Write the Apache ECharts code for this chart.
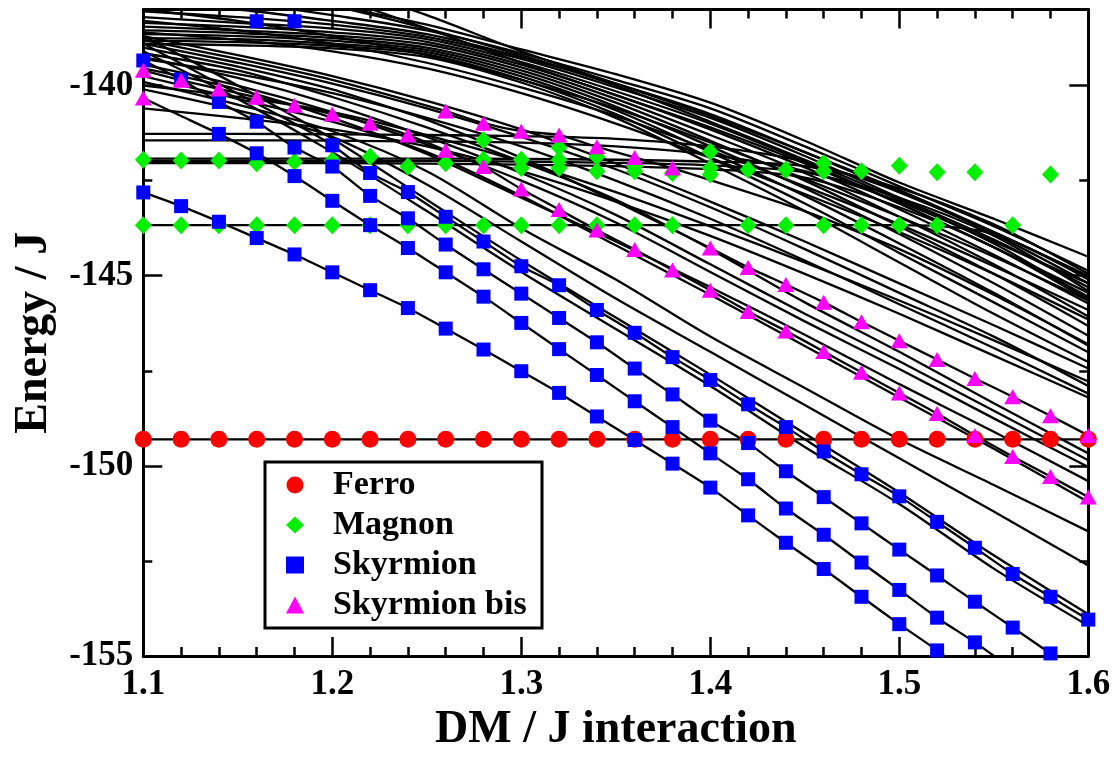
<!DOCTYPE html>
<html>
<head>
<meta charset="utf-8">
<title>Energy levels vs DM interaction</title>
<script src="https://cdn.jsdelivr.net/npm/echarts@6/dist/echarts.min.js"></script>
<style>
  html, body { margin: 0; padding: 0; background: #ffffff; }
  #chart { width: 1120px; height: 758px; }
</style>
</head>
<body>
<div id="chart"></div>
<script>
// ---------- sampling grids (DM / J) ----------
const dmFine = [1.10, 1.12, 1.14, 1.16, 1.18, 1.20, 1.22, 1.24, 1.26, 1.28, 1.30, 1.32, 1.34,
                1.36, 1.38, 1.40, 1.42, 1.44, 1.46, 1.48, 1.50, 1.52, 1.54, 1.56, 1.58, 1.60];
const dmCoarse = [1.10, 1.15, 1.20, 1.25, 1.30, 1.35, 1.40, 1.45, 1.50, 1.55, 1.60];

// ---------- tick labels ----------
const xTicks = [1.1, 1.2, 1.3, 1.4, 1.5, 1.6];
const yTicks = [-155, -150, -145, -140];

// ---------- identified states (energy / J) ----------
const ferroEnergy = [-149.3, -149.3, -149.3, -149.3, -149.3, -149.3, -149.3, -149.3, -149.3, -149.3,
                     -149.3, -149.3, -149.3, -149.3, -149.3, -149.3, -149.3, -149.3, -149.3, -149.3,
                     -149.3, -149.3, -149.3, -149.3, -149.3, -149.3];

const magnonUpper = [[1.10, -141.95], [1.12, -141.97], [1.14, -141.97], [1.16, -142.04], [1.18, -142.00],
  [1.20, -141.97], [1.22, -141.87], [1.24, -142.13], [1.26, -142.04], [1.28, -141.44], [1.28, -141.95],
  [1.30, -141.95], [1.30, -142.17], [1.32, -141.63], [1.32, -141.95], [1.32, -142.17], [1.34, -141.87],
  [1.34, -142.25], [1.36, -142.13], [1.36, -142.25], [1.38, -142.30], [1.40, -141.74], [1.40, -142.17],
  [1.40, -142.34], [1.42, -142.21], [1.44, -142.21], [1.46, -142.04], [1.46, -142.25], [1.48, -142.25],
  [1.50, -142.11], [1.52, -142.28], [1.54, -142.28], [1.58, -142.34]];

const magnonLower = [[1.10, -143.67], [1.12, -143.67], [1.14, -143.67], [1.16, -143.67], [1.18, -143.67],
  [1.20, -143.67], [1.22, -143.67], [1.24, -143.67], [1.26, -143.67], [1.28, -143.67], [1.30, -143.67],
  [1.32, -143.67], [1.34, -143.67], [1.36, -143.67], [1.38, -143.67], [1.42, -143.67], [1.44, -143.67],
  [1.46, -143.67], [1.48, -143.67], [1.50, -143.67], [1.52, -143.67], [1.56, -143.67]];

// skyrmion branches, listed from their first DM value in dmFine
const skyrmion1 = [-142.81, -143.17, -143.58, -144.01, -144.44, -144.91, -145.38, -145.85, -146.39, -146.94,
                   -147.51, -148.08, -148.70, -149.32, -149.94, -150.57, -151.30, -152.02, -152.71, -153.44,
                   -154.16, -154.85];                       // from 1.10
const skyrmion2 = [-141.27, -141.78, -142.38, -143.03, -143.67, -144.27, -144.91, -145.55, -146.24, -146.93,
                   -147.61, -148.30, -148.98, -149.67, -150.35, -151.12, -151.81, -152.54, -153.26, -153.99,
                   -154.64];                                // from 1.14
const skyrmion3 = [-139.34, -139.84, -140.43, -140.95, -141.63, -142.13, -142.90, -143.49, -144.18, -144.83,
                   -145.47, -146.11, -146.75, -147.44, -148.12, -148.81, -149.40, -150.14, -150.82, -151.51,
                   -152.20, -152.88, -153.57, -154.25, -154.93]; // from 1.10
const skyrmion4 = [-141.57, -142.30, -142.80, -143.45, -144.10, -144.75, -145.25, -145.90, -146.50, -147.14,
                   -147.74, -148.38, -148.98, -149.62, -150.22, -150.80, -151.47, -152.15, -152.84, -153.44,
                   -154.04];                                // from 1.20
const skyrmionHigh = [[1.16, -138.31], [1.18, -138.31]];

const bisMain = [-139.60, -139.86, -140.09, -140.31, -140.52, -140.75, -140.99, -141.30, -141.70, -142.13,
                 -142.72, -143.26, -143.80, -144.31, -144.85, -145.38, -145.94, -146.45, -146.99, -147.54,
                 -148.08, -148.62, -149.20, -149.75, -150.28, -150.82];  // from 1.10
const bisLate = [-144.27, -144.78, -145.23, -145.70, -146.21, -146.71, -147.20, -147.70, -148.18, -148.68,
                 -149.20];                                  // from 1.40
const bisUpper = [[1.26, -140.67], [1.28, -140.99], [1.30, -141.20], [1.32, -141.30], [1.34, -141.61],
                  [1.36, -141.89], [1.38, -142.17]];
const bisEdge = [[1.10, -140.33]];

// ---------- continuation of the marked branches beyond their markers ----------
const skyrmion1Tail = [[1.54, -155.60]];
const skyrmion2Lead = [[1.10, -140.33], [1.12, -140.80]];
const skyrmion2Tail = [[1.56, -155.35]];
const skyrmion3Tail = [[1.60, -155.62]];
const skyrmion4Lead = [[1.10, -138.90], [1.14, -139.95], [1.18, -141.00]];
const bisLateLead = [[1.10, -139.00], [1.15, -139.50], [1.20, -140.10], [1.25, -140.90], [1.30, -141.90], [1.35, -143.05]];
const bisUpperLead = [[1.10, -138.80], [1.15, -139.30], [1.20, -139.85]];
const bisUpperTail = [[1.45, -143.30], [1.50, -144.30], [1.55, -145.50], [1.60, -146.80]];

// ---------- other spectrum levels, sampled on dmCoarse ----------
const upperLevels = [
  [-137.20, -137.50, -137.90, -138.40, -139.05, -139.70, -140.45, -141.45, -142.55, -143.50, -144.50],
  [-137.50, -137.80, -138.15, -138.55, -139.15, -139.85, -140.60, -141.60, -142.65, -143.70, -144.87],
  [-137.80, -138.00, -138.30, -138.65, -139.25, -139.95, -140.75, -141.75, -142.80, -143.85, -145.04],
  [-138.05, -138.20, -138.40, -138.72, -139.30, -140.05, -140.85, -141.85, -142.95, -144.05, -145.30],
  [-138.20, -138.35, -138.50, -138.78, -139.38, -140.15, -141.00, -142.00, -143.10, -144.25, -145.55],
  [-138.35, -138.45, -138.60, -138.85, -139.45, -140.25, -141.15, -142.15, -143.25, -144.45, -145.73],
  [-138.45, -138.55, -138.68, -138.92, -139.52, -140.35, -141.30, -142.30, -143.45, -144.70, -146.07],
  [-138.55, -138.62, -138.75, -139.00, -139.60, -140.45, -141.45, -142.50, -143.70, -144.95, -146.32],
  [-138.65, -138.70, -138.82, -139.06, -139.68, -140.55, -141.60, -142.70, -143.90, -145.20, -146.58],
  [-138.75, -138.78, -138.90, -139.12, -139.76, -140.65, -141.75, -142.90, -144.15, -145.45, -146.84],
  [-138.82, -138.86, -138.96, -139.18, -139.84, -140.75, -141.90, -143.10, -144.40, -145.70, -147.01],
  [-138.90, -138.94, -139.02, -139.25, -139.92, -140.85, -142.05, -143.30, -144.65, -146.00, -147.27],
  [-135.90, -136.60, -137.30, -138.15, -139.10, -139.95, -140.80, -141.75, -142.75, -143.85, -145.00],
  [-136.20, -136.90, -137.65, -138.50, -139.40, -140.25, -141.10, -142.05, -143.10, -144.25, -145.45],
  [-137.00, -137.40, -137.90, -138.50, -139.20, -140.00, -140.95, -141.95, -143.00, -144.10, -145.20],
  [-138.00, -138.30, -138.70, -139.20, -139.85, -140.60, -141.50, -142.45, -143.45, -144.50, -145.65],
  [-138.30, -138.55, -138.90, -139.40, -140.05, -140.80, -141.70, -142.65, -143.65, -144.75, -145.90],
  [-138.60, -138.80, -139.10, -139.55, -140.20, -141.00, -141.90, -142.85, -143.85, -144.95, -146.15]
];

const flatLevels = [
  [-141.92, -141.92, -141.92, -141.92, -141.93, -141.95, -142.00, -142.12, -142.70, -143.65, -144.95],
  [-141.98, -141.98, -141.98, -141.98, -142.00, -142.03, -142.10, -142.28, -142.95, -143.95, -145.40],
  [-142.04, -142.04, -142.04, -142.05, -142.08, -142.12, -142.20, -142.42, -143.20, -144.25, -145.65],
  [-141.27, -141.27, -141.28, -141.30, -141.33, -141.40, -141.60, -142.00, -142.80, -143.90, -145.20],
  [-141.44, -141.44, -141.45, -141.47, -141.50, -141.60, -141.82, -142.25, -143.05, -144.15, -145.60],
  [-143.67, -143.67, -143.67, -143.67, -143.67, -143.67, -143.67, -143.67, -143.67, -143.90, -145.10]
];

const fanLevels = [
  [-139.15, -139.60, -140.30, -141.10, -142.00, -143.00, -144.30, -145.70, -147.00, -148.35, -149.67],
  [-139.25, -139.80, -140.50, -141.35, -142.30, -143.40, -144.70, -146.00, -147.25, -148.55, -149.85],
  [-139.45, -140.00, -140.70, -141.55, -142.50, -143.60, -144.90, -146.20, -147.45, -148.75, -150.03],
  [-138.70, -139.20, -139.75, -140.40, -141.15, -142.05, -143.05, -144.10, -145.20, -146.30, -147.44],
  [-140.00, -140.30, -140.70, -141.30, -142.00, -142.80, -143.70, -144.65, -145.65, -146.70, -147.78],
  [-140.60, -140.85, -141.15, -141.60, -142.25, -143.05, -143.95, -144.95, -146.00, -147.10, -148.20],
  [-139.90, -140.50, -141.20, -142.25, -143.75, -145.10, -146.60, -147.95, -149.30, -150.50, -151.72],
  [-140.10, -140.65, -141.35, -142.60, -144.10, -145.60, -147.00, -148.40, -149.80, -151.20, -152.62],
  [-139.75, -140.35, -140.95, -141.75, -142.90, -144.20, -145.50, -146.85, -148.20, -149.55, -150.95],
  [-138.70, -140.00, -141.40, -143.00, -144.60, -146.10, -147.60, -149.15, -150.70, -152.35, -153.90],
  [-139.10, -140.35, -141.75, -143.30, -144.90, -146.40, -147.90, -149.50, -151.00, -152.70, -154.20],
  [-138.90, -139.40, -139.95, -140.60, -141.35, -142.20, -143.20, -144.30, -145.45, -146.60, -147.90],
  [-139.30, -139.70, -140.20, -140.85, -141.60, -142.50, -143.50, -144.60, -145.75, -146.90, -148.10],
  [-139.55, -140.10, -140.85, -141.80, -142.95, -144.10, -145.30, -146.55, -147.85, -149.10, -150.40]
];

// ---------- helpers ----------
const pairs = (ys, start) => ys.map((y, i) => [dmFine[start + i], y]);
const coarse = ys => dmCoarse.map((x, i) => [x, ys[i]]);

const serif = "'Liberation Serif', 'DejaVu Serif', serif";
const levelStyle = { color: '#000000', width: 2.3 };

const series = [];
function addLevel(data, smooth) {
  series.push({
    type: 'line', data: data, smooth: smooth, symbol: 'none', showSymbol: false,
    lineStyle: levelStyle, silent: true, z: 2, clip: true
  });
}

upperLevels.forEach(ys => addLevel(coarse(ys), 0.3));
flatLevels.forEach(ys => addLevel(coarse(ys), 0.3));
fanLevels.forEach(ys => addLevel(coarse(ys), 0.3));

addLevel(pairs(ferroEnergy, 0), false);
addLevel(pairs(skyrmion1, 0).concat(skyrmion1Tail), 0.2);
addLevel(skyrmion2Lead.concat(pairs(skyrmion2, 2), skyrmion2Tail), 0.2);
addLevel(pairs(skyrmion3, 0).concat(skyrmion3Tail), 0.2);
addLevel(skyrmion4Lead.concat(pairs(skyrmion4, 5)), 0.2);
addLevel(pairs(bisMain, 0), 0.2);
addLevel(bisLateLead.concat(pairs(bisLate, 15)), 0.2);
addLevel(bisUpperLead.concat(bisUpper, bisUpperTail), 0.2);

// markers for the identified states
const solid = c => ({ color: c, opacity: 1 });
series.push({
  name: 'Ferro', type: 'scatter', symbol: 'circle', symbolSize: 17, z: 3,
  itemStyle: solid('#ff0000'), data: pairs(ferroEnergy, 0)
});
series.push({
  name: 'Magnon', type: 'scatter', symbol: 'diamond', symbolSize: [17, 18], z: 3,
  itemStyle: solid('#00f000'), data: magnonUpper.concat(magnonLower)
});
series.push({
  name: 'Skyrmion', type: 'scatter', symbol: 'rect', symbolSize: 14, z: 3,
  itemStyle: solid('#0000ff'),
  data: pairs(skyrmion1, 0).concat(pairs(skyrmion2, 2), pairs(skyrmion3, 0), pairs(skyrmion4, 5), skyrmionHigh)
});
series.push({
  name: 'Skyrmion bis', type: 'scatter', symbol: 'triangle', symbolSize: [17, 15], z: 3,
  itemStyle: solid('#ff00ff'),
  data: pairs(bisMain, 0).concat(pairs(bisLate, 15), bisUpper, bisEdge)
});

const labelStyle = { fontFamily: serif, fontWeight: 'bold', fontSize: 35, color: '#000000' };
const frameLine = { show: true, onZero: false, lineStyle: { color: '#000000', width: 3 } };
const majorTick = { show: true, inside: true, length: 19, lineStyle: { color: '#000000', width: 2.5 } };

function xAxisDef(pos, withLabels) {
  return {
    type: 'value', position: pos, min: 1.1, max: 1.6, interval: 0.1,
    axisLine: frameLine, axisTick: majorTick,
    minorTick: { show: true, splitNumber: 5, length: 9, lineStyle: { color: '#000000', width: 2.5 } },
    splitLine: { show: false }, minorSplitLine: { show: false },
    axisLabel: withLabels ? Object.assign({
      margin: 11,
      formatter: v => (xTicks.some(t => Math.abs(t - v) < 1e-6) ? v.toFixed(1) : '')
    }, labelStyle) : { show: false },
    name: withLabels ? 'DM / J interaction' : '',
    nameLocation: 'middle', nameGap: 42,
    nameTextStyle: { fontFamily: serif, fontWeight: 'bold', fontSize: 46, color: '#000000' }
  };
}
function yAxisDef(pos, withLabels) {
  return {
    type: 'value', position: pos, min: -155, max: -138, interval: 5,
    axisLine: frameLine, axisTick: majorTick,
    minorTick: { show: true, splitNumber: 2, length: 9, lineStyle: { color: '#000000', width: 2.5 } },
    splitLine: { show: false }, minorSplitLine: { show: false },
    axisLabel: withLabels ? Object.assign({
      margin: 10, showMaxLabel: false,
      formatter: v => (yTicks.indexOf(Math.round(v)) >= 0 && Math.abs(v - Math.round(v)) < 1e-6 ? String(Math.round(v)) : '')
    }, labelStyle) : { show: false },
    name: withLabels ? 'Energy / J' : '',
    nameLocation: 'middle', nameGap: 86,
    nameTextStyle: { fontFamily: serif, fontWeight: 'bold', fontSize: 46, color: '#000000' }
  };
}

const chart = echarts.init(document.getElementById('chart'), null, { renderer: 'canvas' });
chart.setOption({
  animation: false,
  backgroundColor: '#ffffff',
  grid: { left: 143.3, right: 31.7, top: 9.5, bottom: 87.3, containLabel: false },
  xAxis: [xAxisDef('bottom', true), xAxisDef('top', false)],
  yAxis: [yAxisDef('left', true), yAxisDef('right', false)],
  legend: {
    orient: 'vertical', left: 286, top: 468, padding: 0, itemGap: 6,
    itemWidth: 18, itemHeight: 17, symbolKeepAspect: true, selectedMode: false, z: 5,
    data: ['Ferro', 'Magnon', 'Skyrmion', 'Skyrmion bis'],
    textStyle: { fontFamily: serif, fontWeight: 'bold', fontSize: 34, lineHeight: 34, color: '#000000',
                 padding: [0, 0, 0, 24] }
  },
  graphic: {
    elements: [{
      type: 'rect', z: 4,
      shape: { x: 265, y: 462, width: 277, height: 166 },
      style: { fill: '#ffffff', stroke: '#000000', lineWidth: 3 }
    }]
  },
  series: series
});
</script>
</body>
</html>
